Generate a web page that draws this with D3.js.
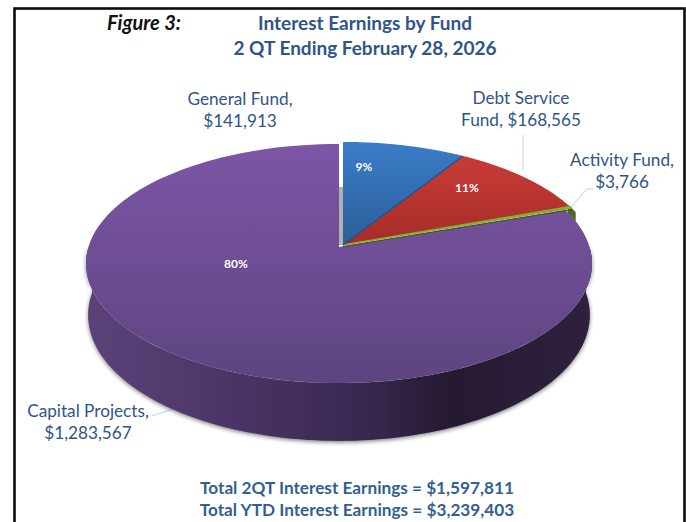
<!DOCTYPE html>
<html>
<head>
<meta charset="utf-8">
<script src="https://cdn.jsdelivr.net/npm/d3@7"></script>
<style>
  html, body { margin: 0; padding: 0; background: #fff; overflow: hidden; }
  svg { display: block; }
  text { font-family: Lato, "Open Sans", sans-serif; }
</style>
</head>
<body>
<div id="chart"></div>
<script>
const funds = ["General Fund", "Debt Service Fund", "Activity Fund", "Capital Projects"];
const earnings = [141913, 168565, 3766, 1283567];
const topColors = ["#3b7dc9", "#c93b37", "#86b535", "#7d56a6"];
const bottomColors = ["#2a5e97", "#a52d2a", "#6f9a28", "#5d4480"];
const titleLines = ["Interest Earnings by Fund", "2 QT Ending February 28, 2026"];
const totalLines = ["Total 2QT Interest Earnings = $1,597,811", "Total YTD Interest Earnings = $3,239,403"];

const width = 686;
const height = 522;
const blueText = "#2f5587";
const money = d3.format("$,");
const percent = d3.format(".0%");

const svg = d3.select("#chart").append("svg").attr("width", width).attr("height", height);
const defs = svg.append("defs");

// the disc is a circle seen in perspective, so the centre sits above the middle of the ellipse
const project = (disc, r, angle) => {
  const x = r * Math.sin(angle);
  const y = -r * Math.cos(angle);
  const w = 1 - disc.k * y;
  return [disc.cx + (disc.a * x) / w, disc.cy + (disc.b * y) / w];
};
const topDisc = { cx: 339, cy: 247, a: 250.6, b: 117.3, k: 0.138 };
const raisedDisc = { cx: 343, cy: 245, a: 253, b: 117.3, k: 0.138 };
const baseDisc = { cx: 339, cy: 293, a: 247, b: 122, k: 0.175 };

const arcPoints = (disc, start, end) =>
  d3.range(0, 121).map(i => project(disc, 1, start + ((end - start) * i) / 120));
const line = d3.line();
const slicePath = (disc, s) =>
  line([project(disc, 0, 0), ...arcPoints(disc, s.startAngle, s.endAngle)]) + "Z";
const wallPath = (top, base, start, end) =>
  line([...arcPoints(top, start, end), ...arcPoints(base, start, end).reverse()]) + "Z";

const slices = d3.pie().sort(null)(earnings);
const total = d3.sum(earnings);

topColors.forEach((c, i) => {
  const g = defs.append("linearGradient").attr("id", `face${i}`)
    .attr("gradientUnits", "userSpaceOnUse")
    .attr("x1", 0).attr("x2", 0);
  const range = i === 3 ? [143, 383] : i === 0 ? [141, 245] : [155, 245];
  g.attr("y1", range[0]).attr("y2", range[1]);
  g.append("stop").attr("offset", 0).attr("stop-color", c);
  g.append("stop").attr("offset", 1).attr("stop-color", bottomColors[i]);
});

const wallGrad = defs.append("linearGradient").attr("id", "wall")
  .attr("gradientUnits", "userSpaceOnUse").attr("x1", 86).attr("x2", 592).attr("y1", 0).attr("y2", 0);
[[0, "#5c4279"], [0.3, "#4a3466"], [0.55, "#382850"], [0.72, "#251a31"], [1, "#2f213e"]].forEach(([o, c]) =>
  wallGrad.append("stop").attr("offset", o).attr("stop-color", c));

defs.append("filter").attr("id", "blur").attr("x", "-10%").attr("y", "-10%").attr("width", "120%").attr("height", "120%")
  .append("feGaussianBlur").attr("stdDeviation", 2.2);

// frame
svg.append("rect").attr("x", 14.5).attr("y", 8.5).attr("width", 670).attr("height", 540)
  .attr("fill", "#fff").attr("stroke", "#0c0c0c").attr("stroke-width", 2.6);

// leader lines go under the pie
const leaders = [
  [[523, 135], [523, 170]],
  [[570, 208], [587, 189], [593, 189]],
  [[152, 416], [176, 408]]
];
svg.selectAll(".leader").data(leaders).join("path").attr("class", "leader")
  .attr("d", d => line(d)).attr("fill", "none").attr("stroke", "#bcd3ea").attr("stroke-width", 1);

// side wall of the big slice, with its soft shadow
const purple = slices[3];
const wallStart = Math.max(purple.startAngle, Math.PI * 0.5);
const wallEnd = Math.PI * 1.5;
const wall = wallPath(topDisc, baseDisc, wallStart, wallEnd);
svg.append("path").attr("d", wall).attr("fill", "#555").attr("opacity", 0.75)
  .attr("transform", "translate(0,1.5)").attr("filter", "url(#blur)");
svg.append("path").attr("d", wall).attr("fill", "url(#wall)");

// small wall under the green sliver
const greenWall = { ...raisedDisc, cy: raisedDisc.cy + 9 };
svg.append("path").attr("d", wallPath(raisedDisc, greenWall, slices[2].startAngle - 0.02, slices[2].endAngle + 0.04))
  .attr("fill", "#4f6b1e");

// grey cut face behind the blue slice
const apex = project(raisedDisc, 0, 0);
svg.append("path").attr("d", line([[apex[0] - 4, apex[1]], [apex[0], apex[1]], [apex[0], apex[1] - 58], [apex[0] - 4, apex[1] - 58]]) + "Z")
  .attr("fill", "#b0b0b0");

svg.selectAll(".slice").data(slices).join("path").attr("class", "slice")
  .attr("d", (d, i) => slicePath(i === 3 ? topDisc : raisedDisc, d))
  .attr("fill", (d, i) => `url(#face${i})`)
  .attr("stroke", (d, i) => (i === 2 ? "#84b030" : "none"))
  .attr("stroke-width", 1.4);

// darker seams along the cut edges
svg.append("path")
  .attr("d", line([apex, project(raisedDisc, 1, slices[0].endAngle)]))
  .attr("stroke", "#1f4f84").attr("stroke-width", 1.2).attr("fill", "none");
svg.append("path")
  .attr("d", line([project(raisedDisc, 0, 0), project(raisedDisc, 1, slices[2].endAngle)]))
  .attr("transform", "translate(0,1.5)")
  .attr("stroke", "#3d4f1c").attr("stroke-width", 1).attr("fill", "none");

// percent labels
const pctSpots = [[364, 171], [467, 192], null, [236, 268]];
svg.selectAll(".pct").data(slices.filter((d, i) => pctSpots[i])).join("text").attr("class", "pct")
  .attr("x", d => pctSpots[d.index][0]).attr("y", d => pctSpots[d.index][1])
  .attr("text-anchor", "middle").attr("fill", "#fff").attr("font-size", 12).attr("font-weight", 700)
  .text(d => percent(d.value / total));

// fund labels
const labelRows = [
  ["General Fund,", money(earnings[0])],
  ["Debt Service", `Fund, ${money(earnings[1])}`],
  ["Activity Fund,", money(earnings[2])],
  ["Capital Projects,", money(earnings[3])]
];
const labelSpots = [[240, 105], [521, 104], [622, 166], [88, 417]];
labelRows.forEach((rows, i) => {
  rows.forEach((t, j) => {
    svg.append("text").attr("x", labelSpots[i][0]).attr("y", labelSpots[i][1] + j * 22)
      .attr("text-anchor", "middle").attr("fill", blueText).attr("font-size", 17.2).text(t);
  });
});

// titles
svg.append("text").attr("x", 107).attr("y", 30).attr("fill", "#111").attr("font-size", 20)
  .attr("font-weight", 700).attr("font-style", "italic").text("Figure 3:");
titleLines.forEach((t, i) => {
  svg.append("text").attr("x", 365).attr("y", 30 + i * 25).attr("text-anchor", "middle")
    .attr("fill", blueText).attr("font-size", 19).attr("font-weight", 700).text(t);
});
totalLines.forEach((t, i) => {
  svg.append("text").attr("x", 357).attr("y", 494 + i * 22).attr("text-anchor", "middle")
    .attr("fill", "#33608f").attr("font-size", 17.2).attr("font-weight", 700).text(t);
});
</script>
</body>
</html>
